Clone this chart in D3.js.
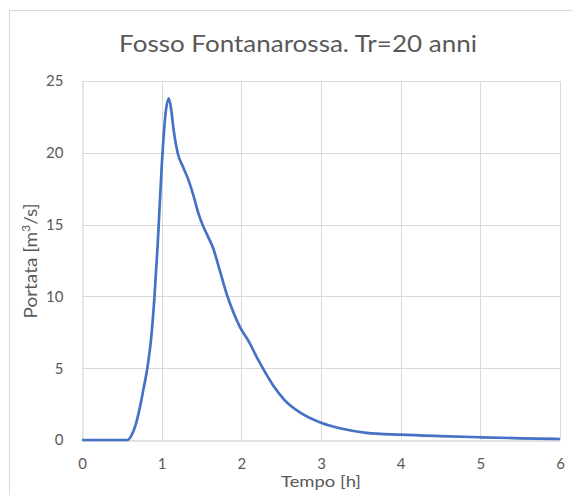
<!DOCTYPE html>
<html>
<head>
<meta charset="utf-8">
<script src="https://cdn.jsdelivr.net/npm/d3@7"></script>
<style>
  html, body { margin: 0; padding: 0; background: #ffffff; }
  svg text { font-family: Lato, "Open Sans", sans-serif; fill: #595959; }
</style>
</head>
<body>
<svg id="chart" width="572" height="495"></svg>
<script>
// Idrogramma di piena, Fosso Fontanarossa (Tr = 20 anni)
const tempo = [0, 0.5, 0.57, 0.62, 0.67, 0.72, 0.77, 0.82, 0.87, 0.91, 0.95, 1.0, 1.05, 1.09, 1.12, 1.15, 1.2, 1.27, 1.33, 1.4, 1.46, 1.52, 1.57, 1.65, 1.73, 1.82, 1.9, 1.98, 2.1, 2.2, 2.28, 2.4, 2.54, 2.74, 3.0, 3.25, 3.57, 4.0, 4.5, 5.0, 5.5, 6.0];
const portata = [0, 0, 0, 0.3, 1.0, 2.1, 3.5, 5.0, 7.2, 10.0, 13.6, 19.0, 22.8, 23.8, 23.0, 21.6, 20.0, 19.0, 18.2, 17.0, 15.8, 14.9, 14.3, 13.3, 11.8, 10.1, 8.9, 7.9, 6.8, 5.7, 4.9, 3.8, 2.8, 1.9, 1.2, 0.8, 0.5, 0.37, 0.27, 0.19, 0.12, 0.07];
const xTicks = [0, 1, 2, 3, 4, 5, 6];
const yTicks = [0, 5, 10, 15, 20, 25];

const svg = d3.select("#chart");
const plotLeft = 82, plotRight = 560, plotTop = 81, plotBottom = 440;

// chart border
svg.append("rect")
  .attr("x", 9.5).attr("y", 10.5)
  .attr("width", 600).attr("height", 600)
  .attr("fill", "none").attr("stroke", "#d9d9d9");

const x = d3.scaleLinear().domain([0, 6]).range([plotLeft, plotRight]);
const y = d3.scaleLinear().domain([0, 25]).range([plotBottom, plotTop]);

// vertical gridlines
svg.append("g").selectAll("line").data(xTicks.filter(d => d > 0)).join("line")
  .attr("x1", d => Math.round(x(d)) + 0.5).attr("x2", d => Math.round(x(d)) + 0.5)
  .attr("y1", plotTop).attr("y2", plotBottom)
  .attr("stroke", "#d9d9d9").attr("stroke-width", 1);

// horizontal gridlines
svg.append("g").selectAll("line").data(yTicks.filter(d => d > 0)).join("line")
  .attr("x1", plotLeft).attr("x2", plotRight)
  .attr("y1", d => Math.round(y(d)) + 0.5).attr("y2", d => Math.round(y(d)) + 0.5)
  .attr("stroke", "#d9d9d9").attr("stroke-width", 1);

// x axis
const xAxis = svg.append("g")
  .attr("transform", `translate(0,${plotBottom + 0.5})`)
  .call(d3.axisBottom(x).tickValues(xTicks).tickSize(0).tickPadding(18).tickFormat(d3.format("d")));
xAxis.select(".domain").attr("stroke", "#d9d9d9").attr("stroke-width", 1.3);
xAxis.selectAll("text").attr("font-size", 15).style("font-family", "Lato, sans-serif").attr("fill", "#595959");

// y axis
const yAxis = svg.append("g")
  .attr("transform", `translate(${plotLeft + 0.5},0)`)
  .call(d3.axisLeft(y).tickValues(yTicks).tickSize(0).tickPadding(19).tickFormat(d3.format("d")));
yAxis.select(".domain").attr("stroke", "#d9d9d9").attr("stroke-width", 1.3);
yAxis.selectAll("text").attr("font-size", 15).style("font-family", "Lato, sans-serif").attr("fill", "#595959");

// hydrograph line
const line = d3.line()
  .x((d, i) => x(tempo[i]))
  .y(d => y(d))
  .curve(d3.curveMonotoneX);
svg.append("path")
  .datum(portata)
  .attr("d", line)
  .attr("fill", "none")
  .attr("stroke", "#4472c4")
  .attr("stroke-width", 2.7)
  .attr("stroke-linejoin", "round");

// stretch a label along its own baseline so it spans the given length
function fitLength(g, text, length) {
  const w = text.node().getComputedTextLength();
  text.attr("transform", `scale(${length / w},1)`);
}

// title
const titleG = svg.append("g").attr("transform", "translate(298,52)");
const title = titleG.append("text")
  .attr("text-anchor", "middle")
  .attr("font-size", 22.3)
  .text("Fosso Fontanarossa. Tr=20 anni");
fitLength(titleG, title, 358);

// x axis title
const xtG = svg.append("g").attr("transform", "translate(321,487)");
const xt = xtG.append("text")
  .attr("text-anchor", "middle")
  .attr("font-size", 14.8)
  .text("Tempo [h]");
fitLength(xtG, xt, 80);

// y axis title
const ytG = svg.append("g").attr("transform", "translate(36.5,261) rotate(-90)");
const yt = ytG.append("text")
  .attr("text-anchor", "middle")
  .attr("font-size", 17);
yt.append("tspan").text("Portata [m");
yt.append("tspan").attr("font-size", 11).attr("dy", -7).text("3");
yt.append("tspan").attr("dy", 7).text("/s]");
fitLength(ytG, yt, 115);
</script>
</body>
</html>
